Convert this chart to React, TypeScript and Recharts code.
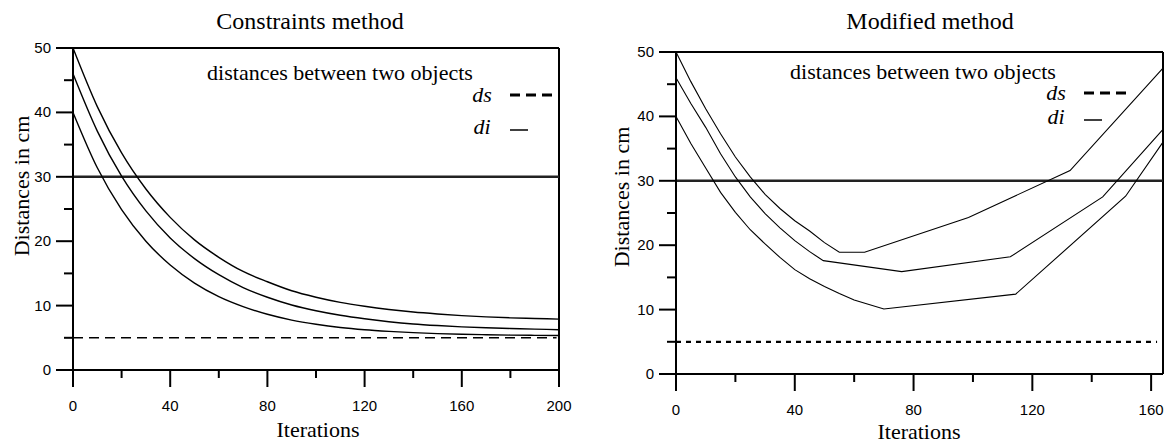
import React from "react";
import { LineChart, Line, XAxis, YAxis, ReferenceLine } from "recharts";

// Constraints method (left)
const conIter = [0, 10, 20, 30, 40, 50, 60, 70, 80, 90, 100, 110, 120, 130, 140, 150, 160, 170, 180, 190, 200];
const conTop = [50, 40.9, 33.7, 28.1, 23.7, 20.2, 17.5, 15.3, 13.7, 12.3, 11.3, 10.5, 9.9, 9.4, 9.0, 8.7, 8.45, 8.25, 8.1, 8.0, 7.9];
const conMid = [46, 37.1, 30.1, 24.7, 20.5, 17.3, 14.8, 12.8, 11.3, 10.1, 9.2, 8.5, 7.95, 7.5, 7.15, 6.9, 6.7, 6.55, 6.45, 6.35, 6.25];
const conLow = [40, 31.4, 24.9, 20.0, 16.3, 13.5, 11.4, 9.85, 8.65, 7.75, 7.1, 6.6, 6.25, 6.0, 5.8, 5.65, 5.55, 5.48, 5.42, 5.38, 5.35];

// Modified method (right)
const modTopIter = [0, 5, 10, 15, 20, 25, 30, 35, 40, 45, 50, 55, 63.5, 98.5, 132.7, 164];
const modTopDist = [50, 45.4, 41.2, 37.3, 33.7, 30.6, 27.9, 25.7, 23.8, 22.2, 20.4, 18.9, 18.9, 24.3, 31.6, 47.5];
const modMidIter = [0, 5, 10, 15, 20, 25, 30, 35, 40, 45, 49.6, 76, 112.6, 143.7, 164];
const modMidDist = [46, 42.0, 38.3, 34.2, 30.6, 27.5, 24.9, 22.7, 20.7, 19.0, 17.6, 15.9, 18.2, 27.5, 38.0];
const modLowIter = [0, 5, 10, 15, 20, 25, 30, 35, 40, 45, 50, 55, 60, 65, 70, 114.4, 151.4, 164];
const modLowDist = [40, 35.8, 32.0, 28.2, 25.1, 22.4, 20.2, 18.1, 16.2, 14.8, 13.6, 12.5, 11.5, 10.8, 10.1, 12.4, 27.6, 36];

const yTicks = [0, 5, 10, 15, 20, 25, 30, 35, 40, 45, 50];
const conXTicks = [0, 20, 40, 60, 80, 100, 120, 140, 160, 180, 200];
const modXTicks = [0, 20, 40, 60, 80, 100, 120, 140, 160];

const ds = 5;
const di = 30;

const toPoints = (xs: number[], ys: number[]) => xs.map((x, i) => ({ x, y: ys[i] }));

const serif = "'Liberation Serif', 'DejaVu Serif', serif";
const sans = "'Liberation Sans', Arial, sans-serif";

const YTick = (props: any) => {
  const { x, y, payload } = props;
  const v = payload.value;
  const major = v % 10 === 0;
  return (
    <g>
      <line x1={x} x2={x - (major ? 17 : 9)} y1={y} y2={y} stroke="#000" strokeWidth={2} />
      {major && (
        <text x={x - 22} y={y} dy={5} textAnchor="end" fontSize={15} fontFamily={sans} fill="#000">
          {v}
        </text>
      )}
    </g>
  );
};

const XTick = (props: any) => {
  const { x, y, payload } = props;
  const v = payload.value;
  const major = v % 40 === 0;
  return (
    <g>
      <line x1={x} x2={x} y1={y} y2={y + (major ? 17 : 8)} stroke="#000" strokeWidth={2} />
      {major && (
        <text x={x} y={y + 41} textAnchor="middle" fontSize={15} fontFamily={sans} fill="#000">
          {v}
        </text>
      )}
    </g>
  );
};

const Txt = ({ x, y, size = 22, italic = false, children }: any) => (
  <div
    style={{
      position: "absolute",
      left: x,
      top: y,
      transform: "translate(-50%, -50%)",
      fontFamily: serif,
      fontSize: size,
      fontStyle: italic ? "italic" : "normal",
      whiteSpace: "nowrap",
      lineHeight: 1,
      color: "#000",
    }}
  >
    {children}
  </div>
);

const Legend = ({ tx, ty, dsY, diY, lineX }: any) => (
  <>
    <Txt x={tx} y={ty}>distances between two objects</Txt>
    <Txt x={lineX - 28} y={dsY} italic>ds</Txt>
    <Txt x={lineX - 28} y={diY} italic>di</Txt>
    <svg style={{ position: "absolute", left: lineX, top: dsY - 3 }} width={44} height={6}>
      <line x1={0} x2={42} y1={3} y2={3} stroke="#000" strokeWidth={3} strokeDasharray="10 6" />
    </svg>
    <svg style={{ position: "absolute", left: lineX, top: diY + 1 }} width={20} height={4}>
      <line x1={0} x2={18} y1={2} y2={2} stroke="#000" strokeWidth={1.5} />
    </svg>
  </>
);

const Panel = ({ width, margin, xMax, xTicks, series, strokeW, curve, dsEnd, dsDash, dsW }: any) => (
  <LineChart width={width} height={444} margin={margin}>
    <XAxis
      dataKey="x"
      type="number"
      domain={[0, xMax]}
      ticks={xTicks}
      interval={0}
      height={40}
      tickSize={0}
      tickMargin={0}
      tick={<XTick />}
      axisLine={{ stroke: "#000", strokeWidth: 2 }}
      tickLine={false}
    />
    <YAxis
      type="number"
      domain={[0, 50]}
      ticks={yTicks}
      interval={0}
      width={60}
      tickSize={0}
      tickMargin={0}
      tick={<YTick />}
      axisLine={{ stroke: "#000", strokeWidth: 2 }}
      tickLine={false}
    />
    <ReferenceLine y={50} stroke="#000" strokeWidth={2} />
    <ReferenceLine x={xMax} stroke="#000" strokeWidth={2} />
    <ReferenceLine y={di} stroke="#222" strokeWidth={2.5} />
    <ReferenceLine
      segment={[{ x: 0, y: ds }, { x: dsEnd, y: ds }]}
      stroke="#000"
      strokeWidth={dsW}
      strokeDasharray={dsDash}
    />
    {series.map((d: any, i: number) => (
      <Line
        key={i}
        data={d}
        dataKey="y"
        type={curve}
        dot={false}
        stroke="#000"
        strokeWidth={strokeW}
        isAnimationActive={false}
      />
    ))}
  </LineChart>
);

export default function App() {
  const conSeries = [toPoints(conIter, conTop), toPoints(conIter, conMid), toPoints(conIter, conLow)];
  const modSeries = [
    toPoints(modTopIter, modTopDist),
    toPoints(modMidIter, modMidDist),
    toPoints(modLowIter, modLowDist),
  ];
  return (
    <div style={{ position: "absolute", left: 0, top: 0, width: 1173, height: 444, background: "#fff", overflow: "hidden" }}>
      <div style={{ position: "absolute", left: 0, top: 0 }}>
        <Panel
          width={590}
          margin={{ top: 48, right: 31, bottom: 34, left: 13 }}
          xMax={200}
          xTicks={conXTicks}
          series={conSeries}
          strokeW={1.4}
          curve="monotone"
          dsEnd={199}
          dsDash="10 6"
          dsW={1.6}
        />
      </div>
      <div style={{ position: "absolute", left: 590, top: 0 }}>
        <Panel
          width={583}
          margin={{ top: 52, right: 10, bottom: 30, left: 26 }}
          xMax={164}
          xTicks={modXTicks}
          series={modSeries}
          strokeW={1.1}
          curve="linear"
          dsEnd={162}
          dsDash="5 5"
          dsW={2.2}
        />
      </div>

      <Txt x={310} y={21} size={24}>Constraints method</Txt>
      <Txt x={930} y={21} size={24}>Modified method</Txt>

      <Legend tx={340} ty={73} dsY={95} diY={127} lineX={510} />
      <Legend tx={923} ty={72} dsY={93} diY={117} lineX={1084} />

      <div style={{ position: "absolute", left: 22, top: 186, transform: "translate(-50%, -50%) rotate(-90deg)", fontFamily: serif, fontSize: 22, whiteSpace: "nowrap", lineHeight: 1 }}>
        Distances in cm
      </div>
      <div style={{ position: "absolute", left: 622, top: 197, transform: "translate(-50%, -50%) rotate(-90deg)", fontFamily: serif, fontSize: 22, whiteSpace: "nowrap", lineHeight: 1 }}>
        Distances in cm
      </div>

      <Txt x={318} y={430}>Iterations</Txt>
      <Txt x={919} y={432}>Iterations</Txt>
    </div>
  );
}
